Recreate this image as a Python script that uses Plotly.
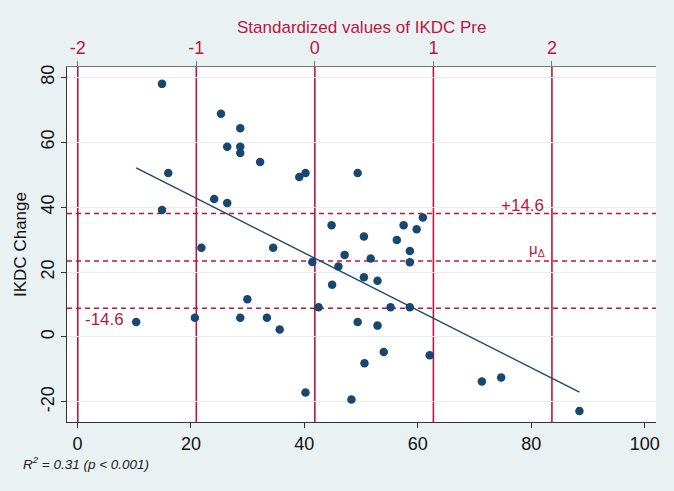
import numpy as np
import plotly.graph_objects as go

# IKDC pre score (bottom axis) and IKDC change (y)
ikdc_pre = [14.9, 25.3, 28.7, 26.4, 28.7, 28.7, 32.2, 16.0, 39.1, 40.2,
            24.1, 26.4, 14.9, 44.8, 21.85, 34.5, 47.1, 49.4, 60.9, 57.5,
            59.8, 50.5, 56.3, 58.6, 41.4, 46.0, 44.9, 29.95, 42.5, 10.35,
            20.7, 28.7, 33.4, 35.65, 40.2, 48.3, 51.7, 58.6, 50.5, 52.9,
            55.2, 58.6, 49.4, 52.9, 54.0, 50.6, 62.1, 71.3, 74.7, 88.5]
ikdc_change = [78.0, 68.8, 64.3, 58.6, 58.6, 56.7, 53.9, 50.5, 49.3, 50.5,
               42.5, 41.3, 39.1, 34.4, 27.5, 27.5, 25.3, 50.5, 36.8, 34.4,
               33.2, 31.0, 29.9, 26.5, 23.1, 21.7, 16.1, 11.6, 9.15, 4.6,
               5.9, 5.9, 5.9, 2.3, -17.1, -19.3, 24.2, 23.0, 18.4, 17.3,
               9.15, 9.15, 4.6, 3.5, -4.6, -8.1, -5.6, -13.7, -12.5, -22.8]

# fitted line as drawn in the picture
fit_intercept = 61.3
fit_slope = -0.885

# standardisation of IKDC pre (mean / sd) and the change band
pre_mean = 41.85
pre_sd = 20.9
z_ticks = [-2, -1, 0, 1, 2]
z_labels = ['-2', '-1', '0', '1', '2']
mu_delta = 23.45
band = 14.6

x_ticks = [0, 20, 40, 60, 80, 100]
x_labels = ['0', '20', '40', '60', '80', '100']
y_ticks = [-20, 0, 20, 40, 60, 80]
y_labels = ['-20', '0', '20', '40', '60', '80']

RED = '#B8173F'
NAVY = '#1A476F'
BG = '#EAF1F3'
FONT = 'Liberation Sans, Arial, sans-serif'

x_range = [-1.85, 102]
y_range = [-26.2, 83.2]
z_range = [(x_range[0] - pre_mean) / pre_sd, (x_range[1] - pre_mean) / pre_sd]

x = np.array(ikdc_pre)
y = np.array(ikdc_change)
fit_x = np.array([x.min(), x.max()])
fit_y = fit_intercept + fit_slope * fit_x

fig = go.Figure()

fig.add_trace(go.Scatter(
    x=x, y=y, mode='markers',
    marker=dict(color=NAVY, size=8.5, line=dict(width=0)),
    showlegend=False
))
fig.add_trace(go.Scatter(
    x=fit_x, y=fit_y, mode='lines',
    line=dict(color=NAVY, width=1.4),
    showlegend=False
))
# invisible trace so the top axis is drawn
fig.add_trace(go.Scatter(
    x=z_range, y=[None, None], xaxis='x2', mode='markers',
    showlegend=False, hoverinfo='skip'
))

# red vertical lines at the standardized values
for z in z_ticks:
    fig.add_shape(type='line', xref='x2', yref='paper', x0=z, x1=z, y0=0, y1=1,
                  line=dict(color=RED, width=1.6), layer='between')

# dashed horizontal lines: mean change and +/- band
for v in [mu_delta - band, mu_delta, mu_delta + band]:
    fig.add_shape(type='line', xref='paper', yref='y', x0=0, x1=1, y0=v, y1=v,
                  line=dict(color=RED, width=1.5, dash='5px,4px'), layer='between')

fig.add_annotation(x=82.6, y=mu_delta + band, text='+14.6', xanchor='right', yanchor='bottom',
                   showarrow=False, font=dict(color=RED, size=17, family=FONT), yshift=-3)
fig.add_annotation(x=82.8, y=mu_delta, text='μ<sub>Δ</sub>', xanchor='right', yanchor='bottom',
                   showarrow=False, font=dict(color=RED, size=15, family=FONT), yshift=0)
fig.add_annotation(x=1.0, y=mu_delta - band, text='-14.6', xanchor='left', yanchor='top',
                   showarrow=False, font=dict(color=RED, size=17, family=FONT), yshift=0)

# top axis title (placed as annotation to sit closer to the Stata position)
fig.add_annotation(xref='paper', yref='paper', x=0.5, y=1.11, xanchor='center', yanchor='middle',
                   text='Standardized values of IKDC Pre', showarrow=False,
                   font=dict(color=RED, size=17, family=FONT))

fig.add_annotation(xref='paper', yref='paper', x=-0.078, y=-0.115, xanchor='left', yanchor='middle',
                   text='<i>R<sup>2</sup> = 0.31 (p &lt; 0.001)</i>', showarrow=False,
                   font=dict(color='#222222', size=13.5, family=FONT))

fig.update_layout(
    width=674, height=491,
    paper_bgcolor=BG, plot_bgcolor='white',
    margin=dict(l=67, r=17.5, t=67, b=69),
    font=dict(family=FONT, size=16.5, color='#111111'),
    xaxis=dict(
        range=x_range, tickvals=x_ticks, ticktext=x_labels, showgrid=False, zeroline=False,
        showline=True, linecolor='#333333', linewidth=1.2, automargin=False,
        ticks='outside', ticklen=5, tickcolor='#333333',
        tickfont=dict(size=18)
    ),
    xaxis2=dict(
        overlaying='x', side='top', range=z_range, tickvals=z_ticks, ticktext=z_labels,
        showgrid=False, zeroline=False, automargin=False,
        showline=True, linecolor='#777777', linewidth=1.2,
        ticks='outside', ticklen=5, tickcolor='#777777',
        tickfont=dict(size=18, color=RED)
    ),
    yaxis=dict(
        range=y_range, tickvals=y_ticks, ticktext=y_labels, tickangle=-90,
        showgrid=True, gridcolor='#E6EDF0', gridwidth=1, zeroline=False,
        showline=True, linecolor='#333333', linewidth=1.2, automargin=False,
        ticks='outside', ticklen=5, tickcolor='#333333',
        tickfont=dict(size=18),
        title=dict(text='IKDC Change', font=dict(size=17), standoff=6)
    ),
)

# page has a default 8px body margin; drop it so the figure sits at the window corner
fig.write_html("out.html", config={'displayModeBar': False},
               post_script="document.body.style.margin='0';document.body.style.background='%s';" % BG)
